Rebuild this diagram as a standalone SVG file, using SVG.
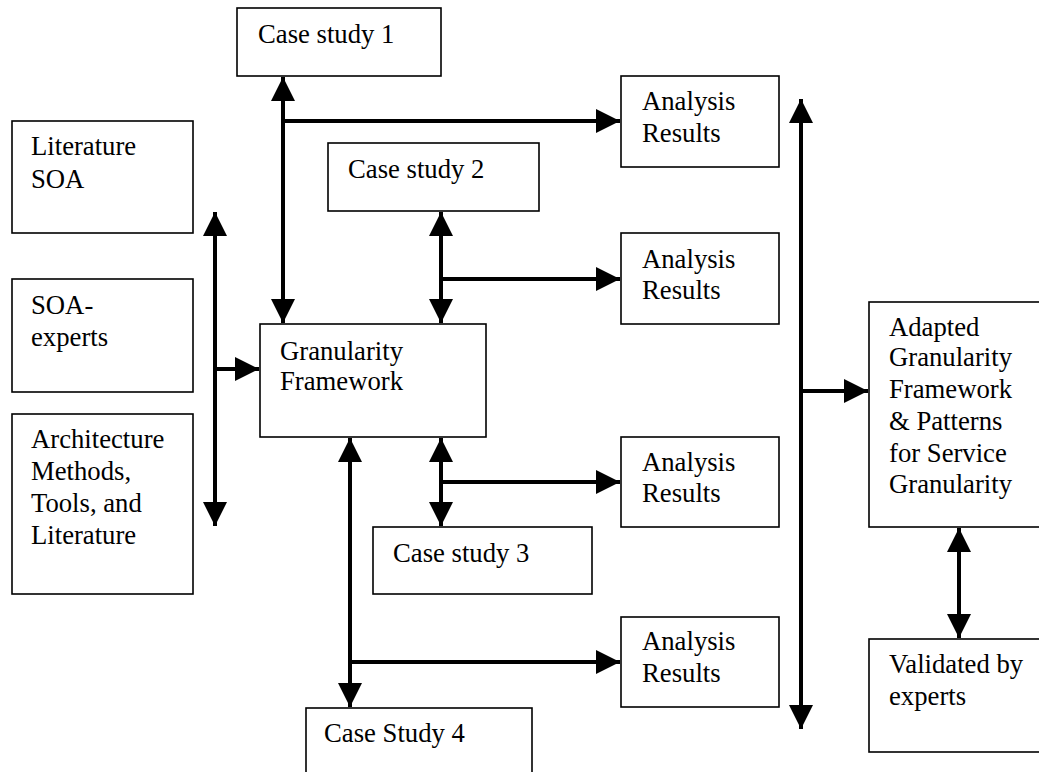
<svg xmlns="http://www.w3.org/2000/svg" width="1039" height="772" viewBox="0 0 1039 772">
<style>
.box{fill:#fff;stroke:#000;stroke-width:1.6}
.lbl{font-size:26.7px;fill:#000}
.con{fill:none;stroke:#000;stroke-width:4}
</style>
<defs>
<marker id="ah" markerUnits="userSpaceOnUse" markerWidth="24" markerHeight="24" refX="24" refY="12" orient="auto-start-reverse" viewBox="0 0 24 24">
<path d="M0,0 L24,12 L0,24 z" fill="#000"/>
</marker>
</defs>
<rect width="1039" height="772" fill="#fff"/>
<g font-family="'Liberation Serif', 'Times New Roman', Times, 'DejaVu Serif', serif">
<g id="cs1"><rect class="box" x="237" y="8" width="204" height="68"/><text class="lbl" x="258" y="43">Case study 1</text></g>
<g id="cs2"><rect class="box" x="328" y="143" width="211" height="68"/><text class="lbl" x="348" y="178">Case study 2</text></g>
<g id="lit"><rect class="box" x="12" y="121" width="181" height="112"/><text class="lbl" x="31" y="155">Literature</text><text class="lbl" x="31" y="188">SOA</text></g>
<g id="soa"><rect class="box" x="12" y="279" width="181" height="113"/><text class="lbl" x="31" y="314">SOA-</text><text class="lbl" x="31" y="346">experts</text></g>
<g id="arch"><rect class="box" x="12" y="414" width="181" height="180"/><text class="lbl" x="31" y="448">Architecture</text><text class="lbl" x="31" y="480">Methods,</text><text class="lbl" x="31" y="512">Tools, and</text><text class="lbl" x="31" y="544">Literature</text></g>
<g id="gf"><rect class="box" x="260" y="324" width="226" height="113"/><text class="lbl" x="280" y="360">Granularity</text><text class="lbl" x="280" y="390">Framework</text></g>
<g id="cs3"><rect class="box" x="373" y="527" width="219" height="67"/><text class="lbl" x="393" y="562">Case study 3</text></g>
<g id="cs4"><rect class="box" x="306" y="708" width="226" height="80"/><text class="lbl" x="324" y="742">Case Study 4</text></g>
<g id="ar1"><rect class="box" x="621" y="76" width="158" height="91"/><text class="lbl" x="642" y="110">Analysis</text><text class="lbl" x="642" y="142">Results</text></g>
<g id="ar2"><rect class="box" x="621" y="233" width="158" height="91"/><text class="lbl" x="642" y="268">Analysis</text><text class="lbl" x="642" y="299">Results</text></g>
<g id="ar3"><rect class="box" x="621" y="437" width="158" height="90"/><text class="lbl" x="642" y="471">Analysis</text><text class="lbl" x="642" y="502">Results</text></g>
<g id="ar4"><rect class="box" x="621" y="617" width="158" height="90"/><text class="lbl" x="642" y="650">Analysis</text><text class="lbl" x="642" y="682">Results</text></g>
<g id="adapted"><rect class="box" x="869" y="302" width="180" height="225"/><text class="lbl" x="889" y="336">Adapted</text><text class="lbl" x="889" y="366">Granularity</text><text class="lbl" x="889" y="398">Framework</text><text class="lbl" x="889" y="430">&amp; Patterns</text><text class="lbl" x="889" y="462">for Service</text><text class="lbl" x="889" y="493">Granularity</text></g>
<g id="validated"><rect class="box" x="869" y="639" width="180" height="113"/><text class="lbl" x="889" y="673">Validated by</text><text class="lbl" x="889" y="705">experts</text></g>
</g>
<g id="connectors">
<line class="con" x1="283" y1="77" x2="283" y2="323" marker-start="url(#ah)" marker-end="url(#ah)"/>
<line class="con" x1="283" y1="121" x2="620" y2="121" marker-end="url(#ah)"/>
<line class="con" x1="441" y1="212" x2="441" y2="323" marker-start="url(#ah)" marker-end="url(#ah)"/>
<line class="con" x1="441" y1="279" x2="620" y2="279" marker-end="url(#ah)"/>
<line class="con" x1="215" y1="212" x2="215" y2="526" marker-start="url(#ah)" marker-end="url(#ah)"/>
<line class="con" x1="215" y1="369" x2="259" y2="369" marker-end="url(#ah)"/>
<line class="con" x1="441" y1="438" x2="441" y2="526" marker-start="url(#ah)" marker-end="url(#ah)"/>
<line class="con" x1="441" y1="482" x2="620" y2="482" marker-end="url(#ah)"/>
<line class="con" x1="350" y1="438" x2="350" y2="707" marker-start="url(#ah)" marker-end="url(#ah)"/>
<line class="con" x1="350" y1="662" x2="620" y2="662" marker-end="url(#ah)"/>
<line class="con" x1="801" y1="99" x2="801" y2="729" marker-start="url(#ah)" marker-end="url(#ah)"/>
<line class="con" x1="801" y1="391" x2="868" y2="391" marker-end="url(#ah)"/>
<line class="con" x1="959" y1="528" x2="959" y2="638" marker-start="url(#ah)" marker-end="url(#ah)"/>
</g>
</svg>
